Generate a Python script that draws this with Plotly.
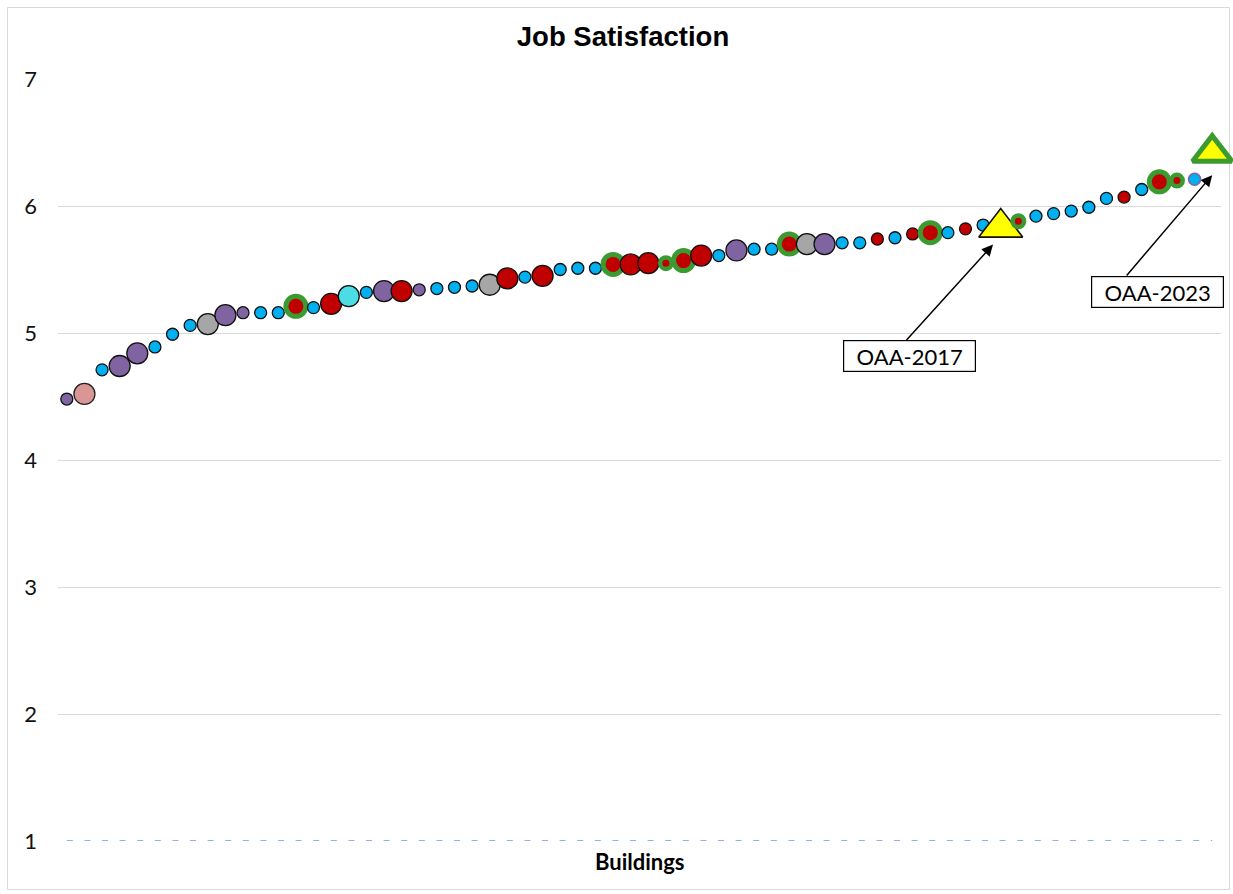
import plotly.graph_objects as go

# ---------------- data ----------------
building_no = list(range(1, 67))
scores = [4.48, 4.52, 4.71, 4.74, 4.84, 4.89, 4.99, 5.06, 5.07, 5.14,
          5.16, 5.16, 5.16, 5.21, 5.20, 5.23, 5.29, 5.32, 5.33, 5.33,
          5.34, 5.35, 5.36, 5.37, 5.38, 5.43, 5.44, 5.45, 5.50, 5.51,
          5.51, 5.54, 5.54, 5.55, 5.55, 5.57, 5.61, 5.61, 5.65, 5.66,
          5.66, 5.70, 5.70, 5.70, 5.71, 5.71, 5.74, 5.75, 5.78, 5.79,
          5.79, 5.82, 5.85, 5.83, 5.88, 5.92, 5.94, 5.96, 5.99, 6.06,
          6.07, 6.13, 6.19, 6.20, 6.21, 6.42]
groups = ["purple_s", "pink_l", "blue_s", "purple_l", "purple_l", "blue_s", "blue_s", "blue_s", "gray_l", "purple_l",
          "purple_s", "blue_s", "blue_s", "redring_l", "blue_s", "red_l", "cyan_l", "blue_s", "purple_l", "red_l",
          "purple_s", "blue_s", "blue_s", "blue_s", "gray_l", "red_l", "blue_s", "red_l", "blue_s", "blue_s",
          "blue_s", "redring_l", "red_l", "red_l", "redring_s", "redring_l", "red_l", "blue_s", "purple_l", "blue_s",
          "blue_s", "redring_l", "gray_l", "purple_l", "blue_s", "blue_s", "red_s", "blue_s", "red_s", "redring_l",
          "blue_s", "red_s", "blue_s", "oaa", "redring_s", "blue_s", "blue_s", "blue_s", "blue_s", "blue_s",
          "red_s", "blue_s", "redring_l", "redring_s", "blue_po", "oaa_g"]
baseline = [1] * len(building_no)
labelled = {54: "OAA-2017", 66: "OAA-2023"}

# ---------------- styles ----------------
BLUE, PURPLE, RED, GREEN = "#00B0F0", "#8064A2", "#C00000", "#3C9B30"
styles = {
    "blue_s":    dict(symbol="circle", size=12, color=BLUE, lc="#111111", lw=1.3),
    "blue_po":   dict(symbol="circle", size=12, color=BLUE, lc=PURPLE, lw=1.5),
    "purple_s":  dict(symbol="circle", size=12, color=PURPLE, lc="#111111", lw=1.3),
    "purple_l":  dict(symbol="circle", size=21, color=PURPLE, lc="#111111", lw=1.3),
    "pink_l":    dict(symbol="circle", size=21, color="#DA9694", lc="#222222", lw=1.3),
    "gray_l":    dict(symbol="circle", size=21, color="#A6A6A6", lc="#111111", lw=1.3),
    "cyan_l":    dict(symbol="circle", size=21, color="#4BDCE4", lc="#111111", lw=1.3),
    "red_l":     dict(symbol="circle", size=21, color=RED, lc="#111111", lw=1.3),
    "red_s":     dict(symbol="circle", size=12, color=RED, lc="#111111", lw=1.3),
    "redring_l": dict(symbol="circle", size=20, color=RED, lc=GREEN, lw=5),
    "redring_s": dict(symbol="circle", size=11.5, color=RED, lc=GREEN, lw=4.5),
    "oaa":       dict(symbol="triangle-up", size=38, color="#FFFF00", lc="#111111", lw=1.6),
    "oaa_g":     dict(symbol="triangle-up", size=34, color="#FFFF00", lc=GREEN, lw=5),
}

FONT = "Lato, 'Liberation Sans', sans-serif"
TITLE_FONT = "'Liberation Sans', Arial, sans-serif"

fig = go.Figure()

# dashed baseline series at 1
fig.add_trace(go.Scatter(
    x=building_no, y=baseline, mode="lines",
    line=dict(color="#8FB4E3", width=1.8, dash="6px,11.6px"),
    hoverinfo="skip", showlegend=False))

fig.add_trace(go.Scatter(
    x=building_no, y=scores, mode="markers", cliponaxis=False,
    marker=dict(
        symbol=[styles[g]["symbol"] for g in groups],
        size=[styles[g]["size"] for g in groups],
        color=[styles[g]["color"] for g in groups],
        opacity=1,
        line=dict(color=[styles[g]["lc"] for g in groups],
                  width=[styles[g]["lw"] for g in groups]),
    ),
    showlegend=False))

# (box shift x, box shift y, arrow-head shift x, arrow-head shift y, arrow tail ax, ay) in pixels
ann_layout = {54: (-91.7, -128.9, -7.7, -17, -88, 97),
              66: (-54.6, -139.5, 0, -22.5, -87, 102)}
for idx, text in labelled.items():
    bx, by, hx, hy, ax, ay = ann_layout[idx]
    # label box
    fig.add_annotation(
        x=idx, y=scores[idx - 1], xref="x", yref="y",
        text=text, showarrow=False, xshift=bx, yshift=by,
        font=dict(family=FONT, size=22, color="#000000"),
        bgcolor="#FFFFFF", bordercolor="#000000", borderwidth=1.2,
        width=129, height=28, borderpad=1)
    # arrow
    fig.add_annotation(
        x=idx, y=scores[idx - 1], xref="x", yref="y",
        text=" ", font=dict(size=1), showarrow=True,
        xshift=hx, yshift=hy, ax=ax, ay=ay, standoff=0,
        arrowhead=2, arrowsize=1.5, arrowwidth=1.5, arrowcolor="#000000")

# x-axis title
fig.add_annotation(
    x=0.5, y=0, xref="paper", yref="paper", yshift=-20,
    text="<b>Buildings</b>", showarrow=False, yanchor="middle",
    font=dict(family=FONT, size=22, color="#000000"))

# chart border
W, H = 1233, 894
L, R, T, B = 58, 12, 79, 53
pw, ph = W - L - R, H - T - B
fig.add_shape(type="rect", xref="paper", yref="paper",
              x0=(7.5 - L) / pw, x1=(1229.5 - L) / pw,
              y0=((H - B) - 889.5) / ph, y1=((H - B) - 7.5) / ph,
              line=dict(color="#D9D9D9", width=1), layer="below")

fig.update_layout(
    width=W, height=H,
    margin=dict(l=L, r=R, t=T, b=B),
    paper_bgcolor="#FFFFFF", plot_bgcolor="#FFFFFF",
    font=dict(family=FONT, color="#000000"),
    title=dict(text="<b>Job Satisfaction</b>", x=623 / W, xanchor="center",
               y=1 - 36 / H, yanchor="middle", yref="container",
               font=dict(family=TITLE_FONT, size=27.5, color="#000000")),
    xaxis=dict(range=[0.5, 66.5], showticklabels=False, showgrid=False,
               zeroline=False, showline=False, ticks=""),
    yaxis=dict(range=[1, 7], dtick=1, tick0=1, showgrid=True, gridcolor="#D9D9D9",
               gridwidth=1, zeroline=False, showline=False, ticks="",
               ticklabelstandoff=20,
               tickfont=dict(family=FONT, size=22, color="#111111")),
    showlegend=False,
)

fig.write_html("out.html")
